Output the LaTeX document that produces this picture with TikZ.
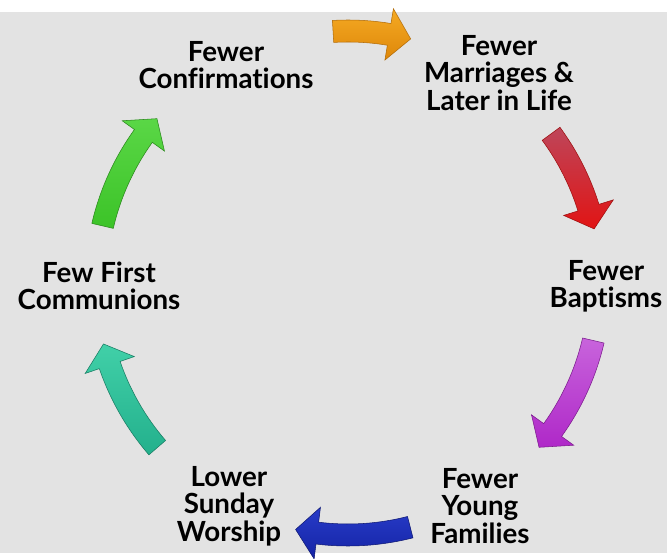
\documentclass[tikz,border=0pt]{standalone}
\usepackage{fontspec}
\setmainfont{Lato}[Ligatures=NoCommon]
\usepackage{tikz}
\usetikzlibrary{positioning}
\definecolor{bggray}{RGB}{227,227,227}
\definecolor{orangetop}{RGB}{245,170,35}
\definecolor{orangebot}{RGB}{222,135,10}
\definecolor{redtop}{RGB}{190,70,90}
\definecolor{redbot}{RGB}{225,20,20}
\definecolor{purpletop}{RGB}{200,100,220}
\definecolor{purplebot}{RGB}{175,40,200}
\definecolor{bluetop}{RGB}{40,60,200}
\definecolor{bluebot}{RGB}{20,35,165}
\definecolor{tealtop}{RGB}{65,208,168}
\definecolor{tealbot}{RGB}{35,176,140}
\definecolor{greentop}{RGB}{90,215,70}
\definecolor{greenbot}{RGB}{60,195,40}

% curved block arrow round the hub: start angle, end angle, colours
\newcommand{\cyclearrow}[3]{%
  \path[cyclearrow, #3] (#1:263) arc[start angle=#1, end angle={#2+5}, radius=263]
    -- ({#2+5}:278) -- (#2:252) -- ({#2+5}:226)
    -- ({#2+5}:241) arc[start angle={#2+5}, end angle=#1, radius=241] -- cycle;}

\begin{document}
\begin{tikzpicture}[x=0.75pt, y=0.75pt]
    % Define styles
    \tikzstyle{cyclelabel} = [align=center, inner sep=0pt, text=black, font=\fontsize{20.8}{20.5}\selectfont\bfseries]
    \tikzstyle{cyclearrow} = [line width=0.4pt]

    % Background
    \fill[white] (0,0) rectangle (667,559);
    \fill[bggray] (0,6) rectangle (667,547);
    \useasboundingbox (0,0) rectangle (667,559);

    % Centre of the cycle
    \coordinate (hub) at (348,276);

    % Labels
    \node [cyclelabel] (confirm) at (226,494) {Fewer\\Confirmations};
    \node [cyclelabel] (marriage) at (499,486) {Fewer\\Marriages \&\\Later in Life};
    \node [cyclelabel] (baptism) at (606,273) {Fewer\\Baptisms};
    \node [cyclelabel] (families) at (480,53) {Fewer\\Young\\Families};
    \node [cyclelabel] (worship) at (229,53) {Lower\\Sunday\\Worship};
    \node [cyclelabel] (communion) at (99,273) {Few First\\Communions};

    % Arrows
    \begin{scope}[shift={(hub)}]
        \cyclearrow{93.4}{75.6}{top color=orangetop, bottom color=orangebot, draw=orangebot!80!black}
        \cyclearrow{36.3}{12.4}{top color=redtop, bottom color=redbot, draw=redbot!70!black}
        \cyclearrow{-13.2}{-40.7}{top color=purpletop, bottom color=purplebot, draw=purplebot!70!black}
        \cyclearrow{-75.7}{-102}{top color=bluetop, bottom color=bluebot, draw=bluebot!70!black}
        \cyclearrow{-139.2}{-166}{top color=tealtop, bottom color=tealbot, draw=tealbot!70!black}
        \cyclearrow{166.9}{139.3}{top color=greentop, bottom color=greenbot, draw=greenbot!70!black}
    \end{scope}
\end{tikzpicture}
\end{document}
